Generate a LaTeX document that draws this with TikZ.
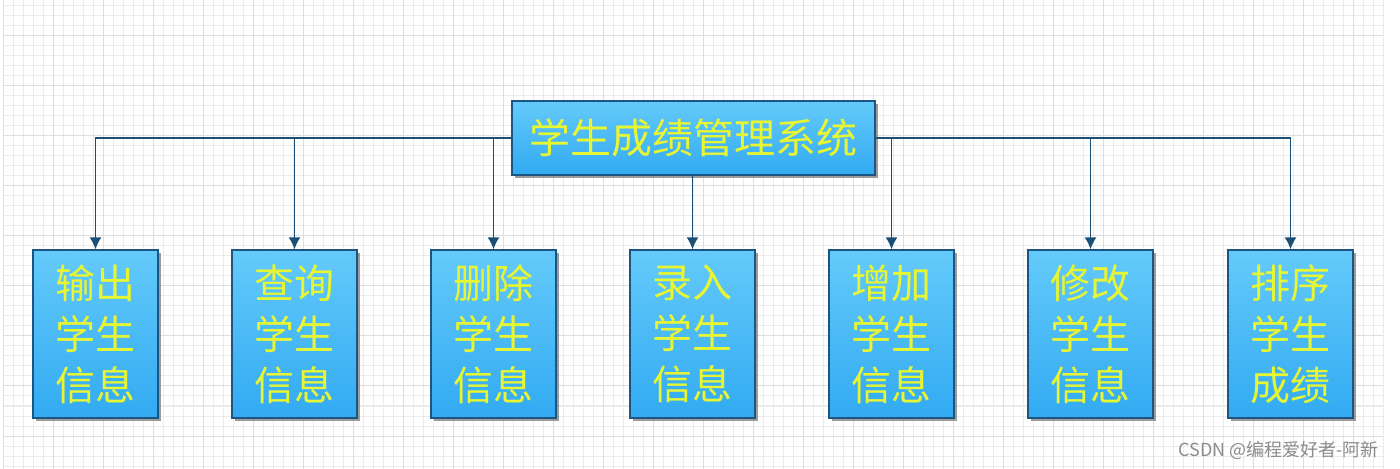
\documentclass[tikz,border=0pt]{standalone}
\usepackage{fontspec}
\newfontfamily\cjk{Noto Sans CJK SC}
\usetikzlibrary{arrows.meta,shadows}
\definecolor{boxtop}{RGB}{100,202,250}
\definecolor{boxbottom}{RGB}{50,170,242}
\definecolor{boxline}{RGB}{28,84,130}
\definecolor{linkline}{RGB}{26,80,120}
\definecolor{labelyellow}{RGB}{232,245,50}
\tikzset{
  gridminor/.style={draw=black!8, line width=0.5pt},
  gridmajor/.style={draw=black!13, line width=0.5pt},
  sysbox/.style={draw=boxline, line width=0.6pt, top color=boxtop, bottom color=boxbottom,
    drop shadow={shadow xshift=1.5pt, shadow yshift=-1.5pt, fill=black!55, opacity=0.7},
    text=labelyellow, inner sep=0pt},
  topbox/.style={sysbox, minimum width=181.5pt, minimum height=37pt,
    font=\cjk\fontsize{20.5}{24}\selectfont},
  funcbox/.style={sysbox, minimum width=62.5pt, minimum height=84pt, align=center,
    font=\cjk\fontsize{20}{25.5}\selectfont},
  link/.style={draw=linkline, line width=0.9pt, -{Latex[length=6pt,width=6pt]}},
}
\begin{document}
\begin{tikzpicture}[x=0.5pt, y=-0.5pt]
  \useasboundingbox (0,0) rectangle (1400,469);
  \fill[white] (0,0) rectangle (1400,469);
  \foreach \gx in {3,13,...,1383} \draw[gridminor] (\gx,0) -- (\gx,469);
  \foreach \gy in {6,16,...,466} \draw[gridminor] (3,\gy) -- (1383,\gy);
  \foreach \gx in {3,53,...,1383} \draw[gridmajor] (\gx,0) -- (\gx,469);
  \foreach \gy in {36,86,...,466} \draw[gridmajor] (3,\gy) -- (1383,\gy);

  \node[topbox] (sys) at (693.5, 138) {学生成绩管理系统};

  \node[funcbox] (out)  at (95.5, 334)  {输出\\学生\\信息};
  \node[funcbox] (find) at (294.5, 334) {查询\\学生\\信息};
  \node[funcbox] (del)  at (493.5, 334) {删除\\学生\\信息};
  \node[funcbox] (rec)  at (692.5, 334) {录入\\学生\\信息};
  \node[funcbox] (add)  at (891.5, 334) {增加\\学生\\信息};
  \node[funcbox] (mod)  at (1090.5, 334) {修改\\学生\\信息};
  \node[funcbox] (sort) at (1290.5, 334) {排序\\学生\\成绩};

  \draw[link] (sys.west) -| (out.north);
  \draw[link] (sys.west) -| (find.north);
  \draw[link] (sys.west) -| (del.north);
  \draw[link] (sys.south -| rec.north) -- (rec.north);
  \draw[link] (sys.east) -| (add.north);
  \draw[link] (sys.east) -| (mod.north);
  \draw[link] (sys.east) -| (sort.north);

  \node[text=black!45, font=\cjk\fontsize{9}{10}\selectfont, anchor=east] (mark) at (1386, 450) {CSDN @编程爱好者-阿新};
\end{tikzpicture}
\end{document}
